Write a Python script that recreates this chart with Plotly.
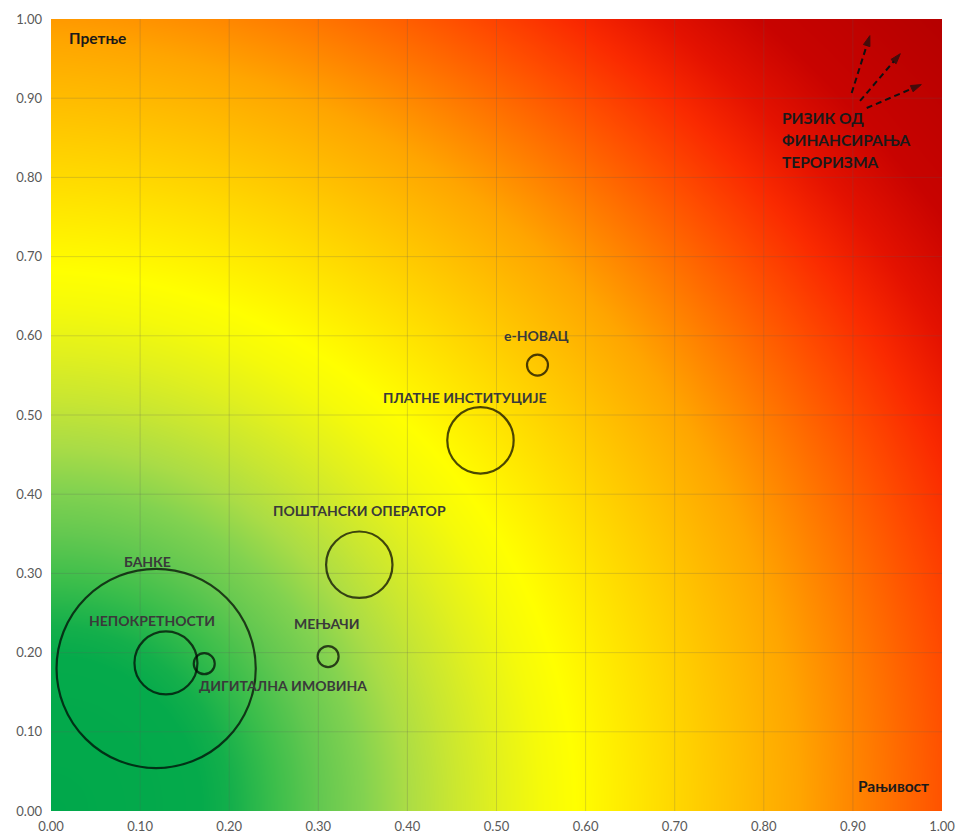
import numpy as np
import plotly.graph_objects as go

# Sector risk: vulnerability (x), threat (y) and relative weight of each sector (bubble area)
sectors = ["БАНКЕ", "НЕПОКРЕТНОСТИ", "ДИГИТАЛНА ИМОВИНА", "МЕЊАЧИ",
           "ПОШТАНСКИ ОПЕРАТОР", "ПЛАТНЕ ИНСТИТУЦИЈЕ", "е-НОВАЦ"]
vulnerability = [0.118, 0.129, 0.172, 0.311, 0.346, 0.482, 0.546]
threat = [0.180, 0.187, 0.186, 0.195, 0.311, 0.468, 0.563]
weight = [90, 9, 1, 1, 10, 10, 1]

tick_vals = [i / 10 for i in range(11)]
tick_text = [f"{v:.2f}" for v in tick_vals]

fig = go.Figure()

# Background risk shading: green (low) at the origin to dark red (high) at the far corner
gx = np.linspace(0, 1, 121)
gy = np.linspace(0, 1, 121)
X, Y = np.meshgrid(gx, gy)
shade = np.sqrt((X / 0.56) ** 2 + (Y / 0.65) ** 2) + 0.13 * X * Y ** 2
zmax = 2.5
stops = [(0.0, "rgb(0,168,75)"), (0.30, "rgb(5,170,75)"), (0.36, "rgb(20,175,75)"),
         (0.45, "rgb(60,190,75)"), (0.54, "rgb(100,200,80)"), (0.625, "rgb(130,210,80)"),
         (0.71, "rgb(170,220,70)"), (0.80, "rgb(200,230,50)"), (0.89, "rgb(225,240,30)"),
         (0.98, "rgb(245,250,10)"), (1.05, "rgb(255,255,0)"), (1.15, "rgb(255,235,0)"),
         (1.3, "rgb(255,205,0)"), (1.5, "rgb(255,165,0)"), (1.8, "rgb(255,78,0)"),
         (1.93, "rgb(250,42,0)"), (2.05, "rgb(228,18,0)"), (2.2, "rgb(200,3,0)"),
         (2.5, "rgb(180,0,0)")]
fig.add_trace(go.Heatmap(
    x=gx, y=gy, z=shade, zmin=0, zmax=zmax, zsmooth="best",
    colorscale=[[s / zmax, c] for s, c in stops],
    showscale=False, hoverinfo="skip"))

# Grid lines drawn over the shading
gl_x, gl_y = [], []
for v in tick_vals[1:-1]:
    gl_x += [v, v, None]
    gl_y += [0, 1, None]
    gl_x += [0, 1, None]
    gl_y += [v, v, None]
fig.add_trace(go.Scatter(x=gl_x, y=gl_y, mode="lines",
                         line=dict(color="rgba(90,90,90,0.22)", width=1),
                         hoverinfo="skip", showlegend=False))

# Sector bubbles (outline only)
fig.add_trace(go.Scatter(
    x=vulnerability, y=threat, mode="markers", text=sectors,
    marker=dict(size=weight, sizemode="area", sizeref=2 / 441,
                color="rgba(0,0,0,0)", line=dict(color="#000000", width=2.2)),
    hovertemplate="%{text}<br>%{x:.2f}, %{y:.2f}<extra></extra>",
    showlegend=False))

# Sector labels
label_pos = [(0.108, 0.315), (0.113, 0.240), (0.260, 0.158), (0.310, 0.237),
             (0.346, 0.379), (0.465, 0.5215), (0.545, 0.601)]
label_font = dict(family="Lato, 'Noto Sans', sans-serif", size=14, color="#3a3a3a")
for name, (lx, ly) in zip(sectors, label_pos):
    fig.add_annotation(x=lx, y=ly, text=f"<b>{name}</b>", showarrow=False,
                       xanchor="center", yanchor="middle", font=label_font)

# Dashed arrows pointing towards the high-risk corner
arrows = [((0.8986, 0.9066), (0.9190, 0.9790)),
          ((0.9080, 0.8965), (0.9532, 0.9562)),
          ((0.9155, 0.8876), (0.9768, 0.9172))]
for (x0, y0), (x1, y1) in arrows:
    fig.add_trace(go.Scatter(
        x=[x0, x1], y=[y0, y1], mode="lines+markers",
        line=dict(color="#111111", width=2, dash="6px,4px"),
        marker=dict(symbol="arrow", angleref="previous", size=[0, 11], color="#111111",
                    line=dict(color="#111111", width=1)),
        hoverinfo="skip", showlegend=False))

corner_font = dict(family="Lato, 'Noto Sans', sans-serif", size=15.5, color="#1a1a1a")
fig.add_annotation(x=0.018, y=0.976, text="<b>Претње</b>", showarrow=False,
                   xanchor="left", yanchor="middle", font=corner_font)
fig.add_annotation(x=0.988, y=0.0316, text="<b>Рањивост</b>", showarrow=False,
                   xanchor="right", yanchor="middle", font=corner_font)
for i, line in enumerate(["РИЗИК ОД", "ФИНАНСИРАЊА", "ТЕРОРИЗМА"]):
    fig.add_annotation(x=0.818, y=0.875 - i * 0.0275, text=f"<b>{line}</b>",
                       showarrow=False, xanchor="left", yanchor="middle",
                       font=corner_font)

axis_common = dict(range=[0, 1], tickvals=tick_vals, ticktext=tick_text,
                   showgrid=False, zeroline=False, showline=False, automargin=False,
                   tickfont=dict(family="Lato, 'Open Sans', sans-serif", size=13,
                                 color="#595959"),
                   fixedrange=True)
fig.update_xaxes(**axis_common, ticklabelstandoff=6)
fig.update_yaxes(**axis_common, ticklabelstandoff=8)

fig.update_layout(
    width=957, height=838, autosize=False,
    margin=dict(l=51, r=15, t=19, b=27),
    paper_bgcolor="white", plot_bgcolor="white",
    showlegend=False,
)

fig.write_html("out.html")
